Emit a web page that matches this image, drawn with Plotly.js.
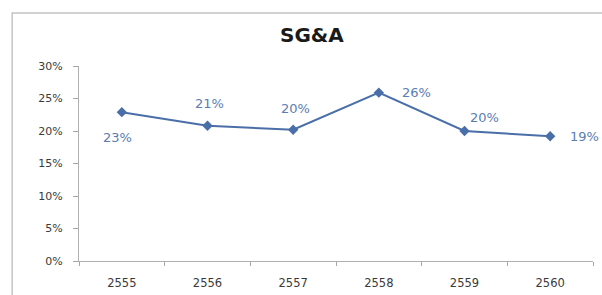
<!DOCTYPE html>
<html>
<head>
<meta charset="utf-8">
<script src="https://cdn.plot.ly/plotly-3.0.1.min.js"></script>
<style>html,body{margin:0;padding:0;background:#fff;}#chart{width:602px;height:295px;}</style>
</head>
<body>
<div id="chart"></div>
<script>
var years = ["2555", "2556", "2557", "2558", "2559", "2560"];
var sgaValues = [22.9, 20.8, 20.2, 25.9, 20.0, 19.2];
var valueLabels = ["23%", "21%", "20%", "26%", "20%", "19%"];
var yTickVals = [0, 5, 10, 15, 20, 25, 30];
var yTickText = ["0%", "5%", "10%", "15%", "20%", "25%", "30%"];
var chartTitle = "SG&A";

// label placement relative to point (pixels)
var labelShifts = [
  {x: -4, y: -25}, {x: 2, y: 22}, {x: 2, y: 21}, {x: 38, y: 0}, {x: 20, y: 14}, {x: 34, y: 0}
];

var annotations = years.map(function (yr, i) {
  return {
    x: i, y: sgaValues[i], xref: 'x', yref: 'y',
    text: valueLabels[i], showarrow: false,
    xshift: labelShifts[i].x, yshift: labelShifts[i].y,
    font: {family: 'DejaVu Sans', size: 13, color: '#5a7db3'}
  };
});
annotations.push({
  xref: 'paper', yref: 'paper', x: 0.453, y: 1.16, xanchor: 'center', yanchor: 'middle',
  text: '<b>' + chartTitle.replace('&', '&amp;') + '</b>', showarrow: false,
  font: {family: 'DejaVu Sans', size: 20, color: '#1a1a1a'}
});

var trace = {
  x: years, y: sgaValues, type: 'scatter', mode: 'lines+markers',
  line: {color: '#4a6fa8', width: 2},
  marker: {symbol: 'diamond', size: 8, color: '#4a6fa8'},
  cliponaxis: false, hoverinfo: 'skip'
};

var layout = {
  width: 602, height: 295,
  margin: {l: 79, r: 9, t: 66, b: 34},
  paper_bgcolor: '#ffffff', plot_bgcolor: '#ffffff',
  showlegend: false,
  xaxis: {
    type: 'category', tickson: 'boundaries', ticks: 'outside', ticklen: 4,
    tickcolor: '#a6a6a6', showline: true, linecolor: '#b0b0b0', linewidth: 1,
    showgrid: false, zeroline: false, ticklabelstandoff: 11,
    tickfont: {family: 'DejaVu Sans', size: 11.5, color: '#3a3a3a'},
    range: [-0.5, 5.5]
  },
  yaxis: {
    range: [0, 30], tickvals: yTickVals, ticktext: yTickText,
    ticks: 'outside', ticklen: 5, tickcolor: '#a6a6a6',
    showline: true, linecolor: '#b0b0b0', linewidth: 1,
    showgrid: false, zeroline: false, ticklabelstandoff: 8,
    tickfont: {family: 'DejaVu Sans', size: 11, color: '#3a3a3a'}
  },
  shapes: [{
    type: 'rect', xref: 'paper', yref: 'paper',
    x0: -0.130, x1: 1.1, y0: -0.3, y1: 1.272,
    line: {color: '#c4c4c4', width: 1.5}, fillcolor: 'rgba(0,0,0,0)', layer: 'below'
  }],
  annotations: annotations
};

Plotly.newPlot('chart', [trace], layout, {displayModeBar: false, staticPlot: true});
</script>
</body>
</html>
